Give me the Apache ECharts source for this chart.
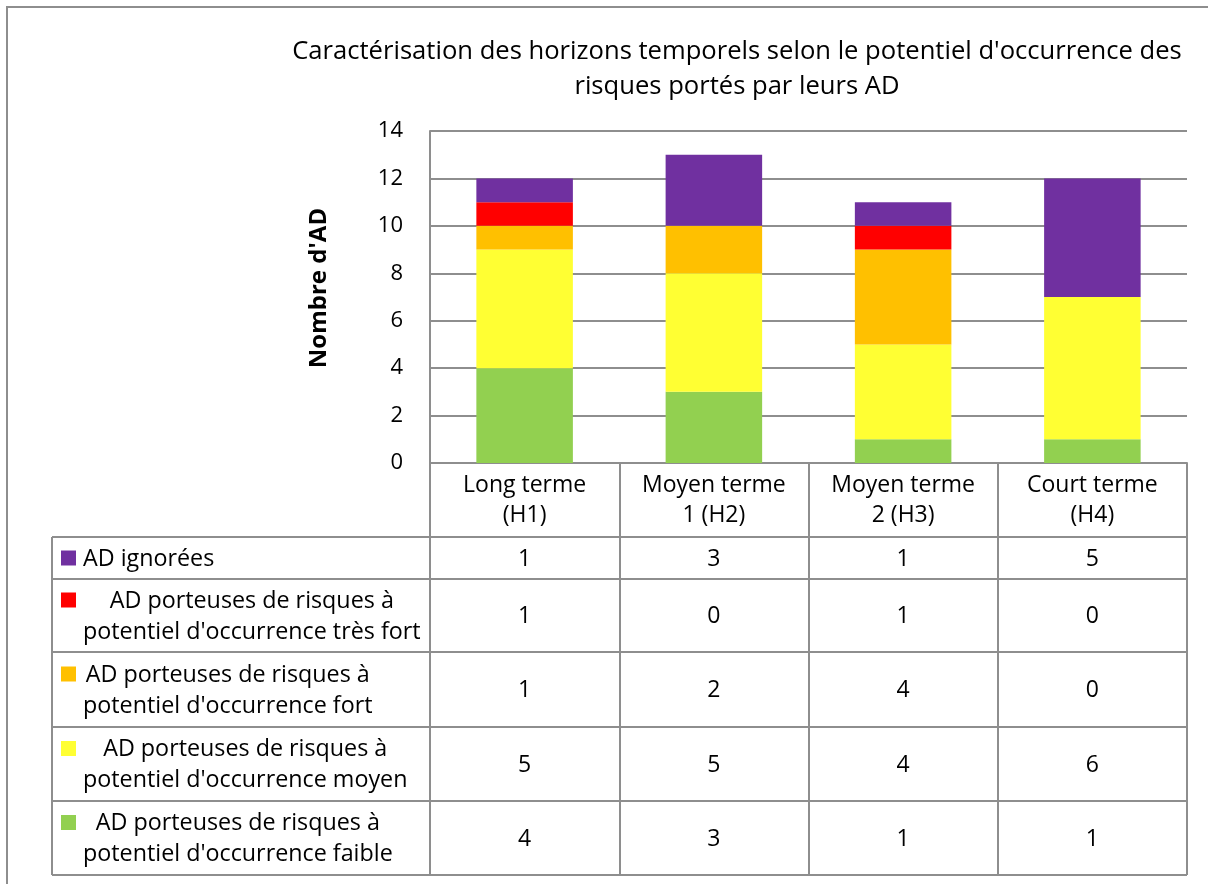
<!DOCTYPE html>
<html>
<head>
<meta charset="utf-8">
<script src="https://cdn.jsdelivr.net/npm/echarts@6/dist/echarts.min.js"></script>
<style>
  html, body { margin: 0; padding: 0; background: #ffffff; }
  #chart { width: 1208px; height: 884px; }
</style>
</head>
<body>
<div id="chart"></div>
<script>
// Horizons temporels (colonnes du tableau / catégories de l'axe)
const categories = ['Long terme\n(H1)', 'Moyen terme\n1 (H2)', 'Moyen terme\n2 (H3)', 'Court terme\n(H4)'];

// Nombre d'AD par niveau de potentiel d'occurrence
const adIgnorees = [1, 3, 1, 5];
const adTresFort = [1, 0, 1, 0];
const adFort     = [1, 2, 4, 0];
const adMoyen    = [5, 5, 4, 6];
const adFaible   = [4, 3, 1, 1];

// Libellés des séries (tels qu'affichés dans le tableau de données)
const nameIgnorees = 'AD ignorées';
const nameTresFort = "AD porteuses de risques à\npotentiel d'occurrence très fort";
const nameFort     = "AD porteuses de risques à\npotentiel d'occurrence fort";
const nameMoyen    = "AD porteuses de risques à\npotentiel d'occurrence moyen";
const nameFaible   = "AD porteuses de risques à\npotentiel d'occurrence faible";

const yMin = 0, yMax = 14, yStep = 2;
const titleText = "Caractérisation des horizons temporels selon le potentiel d'occurrence des\nrisques portés par leurs AD";
const yAxisTitle = "Nombre d'AD";

const FONT = '"Open Sans", sans-serif';
const LINE = '#8e8e8e';
const TABLE_FONT_SIZE = 23.3;

// Empilement de bas en haut
const stackOrder = [
  { name: nameFaible,   data: adFaible,   color: '#92D050' },
  { name: nameMoyen,    data: adMoyen,    color: '#FFFF33' },
  { name: nameFort,     data: adFort,     color: '#FFC000' },
  { name: nameTresFort, data: adTresFort, color: '#FF0000' },
  { name: nameIgnorees, data: adIgnorees, color: '#7030A0' }
];
// Lignes du tableau, de haut en bas
const tableRows = stackOrder.slice().reverse();

const chart = echarts.init(document.getElementById('chart'), null, { renderer: 'canvas' });

const gridLeft = 430, gridRight = 21, gridTop = 131, gridBottom = 421;
const tableBottom = 875;

chart.setOption({
  animation: false,
  backgroundColor: '#ffffff',
  textStyle: { fontFamily: FONT, color: '#000000' },
  title: {
    text: titleText,
    left: 737,
    top: 34,
    textAlign: 'center',
    padding: 0,
    textStyle: { fontFamily: FONT, fontSize: 25.6, fontWeight: 'normal', color: '#000000', lineHeight: 35 }
  },
  grid: { left: gridLeft, right: gridRight, top: gridTop, bottom: gridBottom, containLabel: false },
  xAxis: {
    type: 'category',
    data: categories,
    axisLine: { show: true, lineStyle: { color: LINE, width: 2 } },
    axisTick: { show: true, length: tableBottom - (884 - gridBottom), lineStyle: { color: LINE, width: 2 } },
    axisLabel: { fontFamily: FONT, fontSize: 23, color: '#000000', lineHeight: 30, margin: 7, interval: 0 },
    splitLine: { show: false }
  },
  yAxis: {
    type: 'value',
    min: yMin, max: yMax, interval: yStep,
    axisLine: { show: true, lineStyle: { color: LINE, width: 2 } },
    axisTick: { show: false },
    axisLabel: { fontFamily: FONT, fontSize: 22, color: '#000000', margin: 27 },
    splitLine: { show: true, lineStyle: { color: LINE, width: 2 } }
  },
  series: stackOrder.map(s => ({
    type: 'bar',
    name: s.name,
    stack: 'total',
    data: s.data,
    barWidth: '51%',
    itemStyle: { color: s.color },
    z: 3
  }))
});

// Tableau de données sous le graphique
function buildTable() {
  const ctx = document.createElement('canvas').getContext('2d');
  ctx.font = TABLE_FONT_SIZE + 'px ' + FONT;
  const measure = t => Math.max.apply(null, t.split('\n').map(l => ctx.measureText(l).width));

  const centers = categories.map((c, i) => chart.convertToPixel({ xAxisIndex: 0 }, i));
  const tableLeft = 52, tableRight = 1187;
  const rowEdges = [537, 579, 652, 727, 801, 875];
  const g = [];

  // cadre extérieur
  g.push({ type: 'rect', shape: { x: 7, y: 7, width: 1400, height: 1000 }, style: { fill: null, stroke: LINE, lineWidth: 2 }, z: 0, silent: true });

  // lignes horizontales
  rowEdges.forEach(y => g.push({
    type: 'line', shape: { x1: tableLeft, y1: y, x2: tableRight, y2: y },
    style: { stroke: LINE, lineWidth: 2 }, z: 10, silent: true
  }));
  // bord gauche de la colonne des libellés
  g.push({ type: 'line', shape: { x1: tableLeft, y1: rowEdges[0], x2: tableLeft, y2: tableBottom }, style: { stroke: LINE, lineWidth: 2 }, z: 10 });

  tableRows.forEach((row, r) => {
    const yTop = rowEdges[r], yBot = rowEdges[r + 1];
    const yc = (yTop + yBot) / 2;
    const multi = row.name.indexOf('\n') >= 0;
    // pastille de couleur
    const keyY = multi ? yc - 15.5 : yc;
    g.push({ type: 'rect', shape: { x: 61, y: keyY - 7.5, width: 15, height: 15 }, style: { fill: row.color }, z: 11 });
    // libellé de la série
    const w = measure(row.name);
    g.push({
      type: 'text', x: multi ? 83 + w / 2 : 83, y: yc + 1, z: 11,
      style: {
        text: row.name, fill: '#000000', fontFamily: FONT, fontSize: TABLE_FONT_SIZE, lineHeight: 31,
        align: multi ? 'center' : 'left', verticalAlign: 'middle'
      }
    });
    // valeurs
    row.data.forEach((v, i) => g.push({
      type: 'text', x: centers[i], y: yc + 1, z: 11,
      style: { text: String(v), fill: '#000000', fontFamily: FONT, fontSize: 23, align: 'center', verticalAlign: 'middle' }
    }));
  });

  // titre de l'axe vertical
  g.push({
    type: 'text', x: 319, y: 288, rotation: Math.PI / 2, z: 11,
    style: { text: yAxisTitle, fill: '#000000', fontFamily: FONT, fontSize: 24, fontWeight: 'bold', align: 'center', verticalAlign: 'middle' }
  });

  chart.setOption({ graphic: g });
}
buildTable();
</script>
</body>
</html>
